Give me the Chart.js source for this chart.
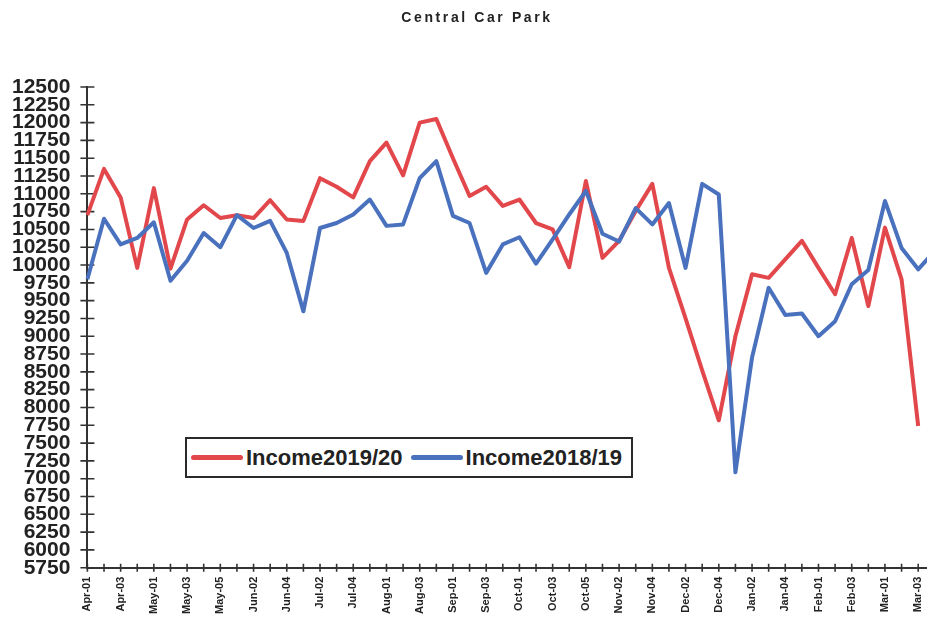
<!DOCTYPE html>
<html>
<head>
<meta charset="utf-8">
<script src="https://cdn.jsdelivr.net/npm/chart.js@4.4.1/dist/chart.umd.min.js"></script>
<style>
  html, body { margin: 0; padding: 0; background: #fff; overflow: hidden; }
  #wrap { position: absolute; left: -17px; top: 0; width: 974px; height: 631px; }
  #title {
    position: absolute; left: 327px; top: 9px; width: 300px; text-align: center;
    font: bold 14px "Liberation Sans", Arial, sans-serif; letter-spacing: 2.6px; color: #222;
  }
  #legend {
    position: absolute; left: 185px; top: 437px; width: 448px; height: 41px;
    box-sizing: border-box; border: 2px solid #2a2a2a; background: #fff;
    display: flex; align-items: center; padding-left: 4px;
    font: bold 22px "Liberation Sans", Arial, sans-serif; color: #222;
  }
  .item { display: flex; align-items: center; margin-right: 8px; }
  .swatch { width: 52px; height: 5px; border-radius: 3px; margin-right: 3px; }
</style>
</head>
<body>
<div id="wrap"><canvas id="chart"></canvas></div>
<div id="title">Central Car Park</div>
<div id="legend"></div>
<script>
const weekLabels = [
  "Apr-01", "Apr-02", "Apr-03", "Apr-04",
  "May-01", "May-02", "May-03", "May-04", "May-05",
  "Jun-01", "Jun-02", "Jun-03", "Jun-04",
  "Jul-01", "Jul-02", "Jul-03", "Jul-04", "Jul-05",
  "Aug-01", "Aug-02", "Aug-03", "Aug-04",
  "Sep-01", "Sep-02", "Sep-03", "Sep-04",
  "Oct-01", "Oct-02", "Oct-03", "Oct-04", "Oct-05",
  "Nov-01", "Nov-02", "Nov-03", "Nov-04",
  "Dec-01", "Dec-02", "Dec-03", "Dec-04",
  "Jan-01", "Jan-02", "Jan-03", "Jan-04", "Jan-05",
  "Feb-01", "Feb-02", "Feb-03", "Feb-04",
  "Mar-01", "Mar-02", "Mar-03", "Mar-04"
];

const income1920 = [
  10700, 11350, 10950, 9960, 11080, 9950, 10640, 10840, 10660, 10700,
  10660, 10910, 10640, 10620, 11220, 11100, 10950, 11460, 11720, 11260,
  12000, 12050, 11500, 10970, 11100, 10830, 10920, 10590, 10500, 9970,
  11180, 10100, 10340, 10760, 11140, 9960, 9250, 8520, 7820, 9000,
  9870, 9820, 10080, 10340, 9960, 9590, 10380, 9425, 10525, 9800,
  7740
];

const income1819 = [
  9800, 10650, 10290, 10380, 10600, 9780, 10060, 10450, 10250, 10700,
  10520, 10620, 10170, 9350, 10520, 10590, 10710, 10920, 10550, 10570,
  11220, 11460, 10690, 10590, 9890, 10290, 10390, 10020, 10360, 10710,
  11040, 10440, 10330, 10800, 10570, 10870, 9960, 11140, 10990, 7090,
  8700, 9680, 9300, 9320, 9000, 9210, 9730, 9930, 10900, 10240,
  9940, 10200
];

const yTickValues = [
  5750, 6000, 6250, 6500, 6750, 7000, 7250, 7500, 7750, 8000,
  8250, 8500, 8750, 9000, 9250, 9500, 9750, 10000, 10250, 10500,
  10750, 11000, 11250, 11500, 11750, 12000, 12250, 12500
];

const seriesNames = ["Income2019/20", "Income2018/19"];
const seriesColors = ["#e2474c", "#4a71bd"];

const axisColor = "#333";
const fontFamily = '"Liberation Sans", Arial, sans-serif';

// tick marks that cross the axis lines, like the original
const crossTicks = {
  id: "crossTicks",
  beforeDatasetsDraw(chart) {
    const { ctx, scales: { x, y } } = chart;
    ctx.save();
    ctx.strokeStyle = axisColor;
    ctx.lineWidth = 1.6;
    ctx.beginPath();
    y.ticks.forEach((t, i) => {
      const py = y.getPixelForTick(i);
      ctx.moveTo(x.left - 7, py);
      ctx.lineTo(x.left + 7, py);
    });
    x.ticks.forEach((t, i) => {
      const px = x.getPixelForTick(i);
      ctx.moveTo(px, y.bottom - 4);
      ctx.lineTo(px, y.bottom + 4);
    });
    ctx.stroke();
    ctx.restore();
  }
};

new Chart(document.getElementById("chart"), {
  type: "line",
  data: {
    labels: weekLabels,
    datasets: [
      {
        label: seriesNames[0],
        data: income1920,
        borderColor: seriesColors[0],
        backgroundColor: seriesColors[0],
        borderWidth: 4,
        pointRadius: 0,
        tension: 0,
        borderJoinStyle: "round",
        order: 1,
      },
      {
        label: seriesNames[1],
        data: income1819,
        borderColor: seriesColors[1],
        backgroundColor: seriesColors[1],
        borderWidth: 4,
        pointRadius: 0,
        tension: 0,
        borderJoinStyle: "round",
        order: 0,
      },
    ],
  },
  options: {
    responsive: true,
    maintainAspectRatio: false,
    animation: false,
    layout: { padding: { top: 87, left: 12, right: 0, bottom: 8 } },
    plugins: {
      legend: { display: false },
      title: { display: false },
      tooltip: { enabled: false },
    },
    scales: {
      x: {
        offset: false,
        grid: { display: false, drawTicks: false },
        border: { color: axisColor, width: 2 },
        ticks: {
          autoSkip: false,
          minRotation: 90,
          maxRotation: 90,
          padding: 9,
          color: "#222",
          font: { family: fontFamily, size: 11, weight: "bold" },
          callback: (v, i) => (i % 2 === 0 ? weekLabels[i] : ""),
        },
      },
      y: {
        min: 5750,
        max: 12500,
        afterBuildTicks: (scale) => {
          scale.ticks = yTickValues.map((v) => ({ value: v }));
        },
        grid: { display: false, drawTicks: false },
        border: { color: axisColor, width: 2 },
        ticks: {
          autoSkip: false,
          padding: 17,
          color: "#222",
          font: { family: fontFamily, size: 21, weight: "bold" },
          callback: (v) => String(v),
        },
      },
    },
  },
  plugins: [crossTicks],
});

// legend box sits inside the plot, as in the original
const legend = document.getElementById("legend");
seriesNames.forEach((name, i) => {
  const item = document.createElement("div");
  item.className = "item";
  const sw = document.createElement("span");
  sw.className = "swatch";
  sw.style.background = seriesColors[i];
  const txt = document.createElement("span");
  txt.textContent = name;
  item.appendChild(sw);
  item.appendChild(txt);
  legend.appendChild(item);
});
</script>
</body>
</html>
